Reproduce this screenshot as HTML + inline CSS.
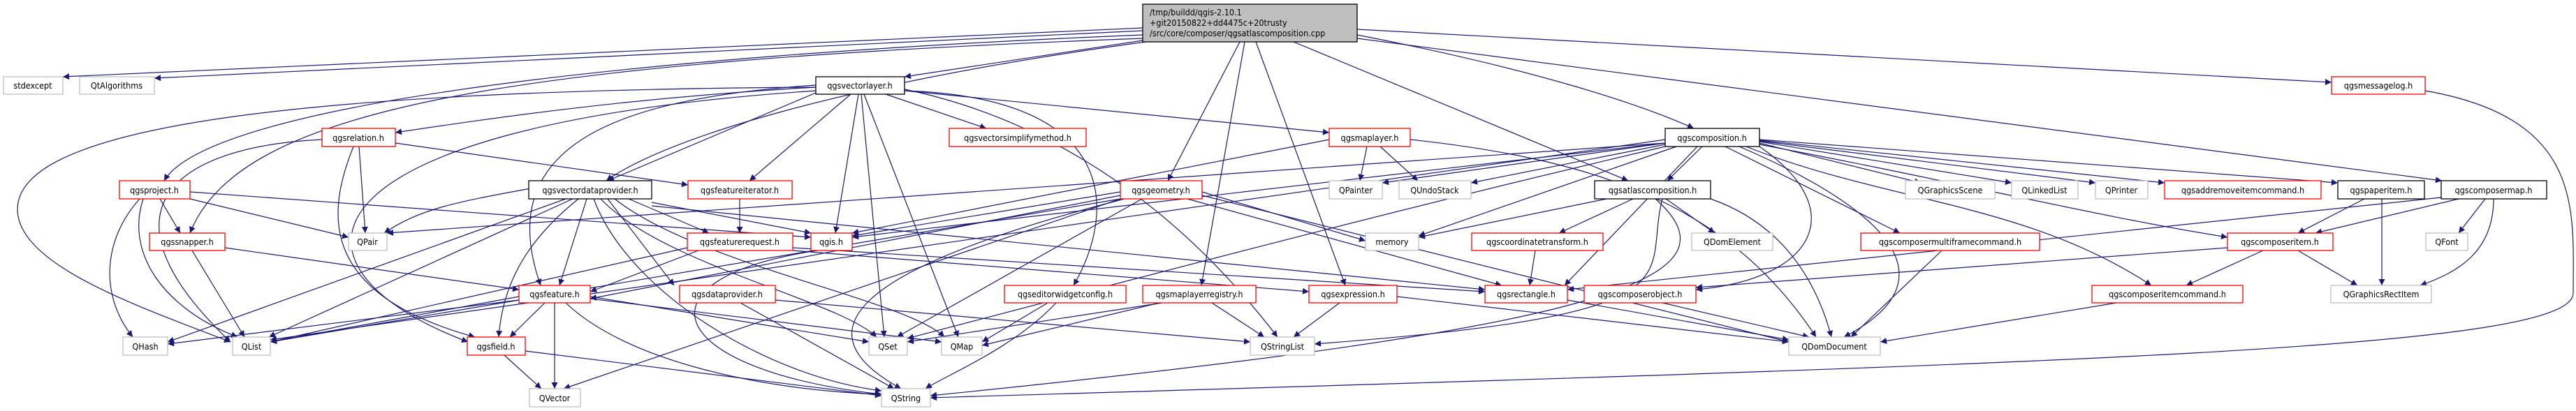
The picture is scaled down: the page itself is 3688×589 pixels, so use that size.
<!DOCTYPE html>
<html><head><meta charset="utf-8"><style>
html,body{margin:0;padding:0;background:#fff;width:3688px;height:589px;overflow:hidden}
svg{display:block}
text{font-family:"DejaVu Sans Condensed","DejaVu Sans","Liberation Sans",sans-serif;font-size:12.5px;fill:#000}
.e{fill:none;stroke:#191970;stroke-width:1.2}
.r{fill:#fff;stroke:#ff0000;stroke-width:1.3}
.b{fill:#fff;stroke:#000;stroke-width:1.3}
.g{fill:#fff;stroke:#bfbfbf;stroke-width:1.3}
</style></head><body>
<svg width="3688" height="589" viewBox="0 0 3688 589" xmlns="http://www.w3.org/2000/svg">
<defs><marker id="a" viewBox="0 0 10 10" refX="10" refY="5" markerWidth="10" markerHeight="9" markerUnits="userSpaceOnUse" orient="auto"><path d="M0,0 L10,5 L0,10 z" fill="#191970"/></marker></defs>
<g class="e" marker-end="url(#a)">
<path d="M1636,40 L90,110"/>
<path d="M1636,44 L221,112"/>
<path d="M1636,50 C900,80 300,150 235,259"/>
<path d="M1636,55 C700,90 340,160 272,334"/>
<path d="M1636,58 L1295,110"/>
<path d="M1640,60 C1200,120 950,200 868,259"/>
<path d="M1775,60 L1672,259"/>
<path d="M1782,60 L1720,409"/>
<path d="M1798,60 L1926,409"/>
<path d="M1852,60 L2331,259"/>
<path d="M1943,50 C2200,100 2350,150 2425,184"/>
<path d="M1943,55 L3496,259"/>
<path d="M1943,42 L3338,118"/>
<path d="M1168,125 C900,140 700,170 566,190"/>
<path d="M1268,135 L1412,184"/>
<path d="M1218,135 L1073,259"/>
<path d="M1229,135 L1196,334"/>
<path d="M1233,135 L1266,483"/>
<path d="M1237,135 L1372,483"/>
<path d="M1295,128 C1450,160 1650,250 1829,483"/>
<path d="M1295,130 L1903,190"/>
<path d="M1295,130 C1600,140 1600,300 1537,409"/>
<path d="M1168,122 C900,140 700,200 774,409"/>
<path d="M1168,130 C420,180 380,380 670,490"/>
<path d="M1168,125 C300,130 25,200 25,300 C25,380 200,440 330,490"/>
<path d="M1168,133 L870,259"/>
<path d="M514,210 L523,334"/>
<path d="M506,210 C470,300 450,420 680,483"/>
<path d="M461,200 C250,210 130,300 330,490"/>
<path d="M566,205 L985,265"/>
<path d="M272,285 L499,340"/>
<path d="M229,285 L258,334"/>
<path d="M200,285 C150,340 140,420 190,483"/>
<path d="M205,285 C180,360 230,440 340,483"/>
<path d="M272,275 L1161,340"/>
<path d="M322,355 L743,415"/>
<path d="M275,359 L350,483"/>
<path d="M760,270 C650,290 600,300 550,334"/>
<path d="M840,285 L801,409"/>
<path d="M828,285 C760,340 720,400 714,483"/>
<path d="M810,285 L240,490"/>
<path d="M820,285 L385,483"/>
<path d="M900,285 L1015,334"/>
<path d="M933,290 L1161,334"/>
<path d="M870,285 L965,409"/>
<path d="M860,285 C950,380 1200,430 1255,483"/>
<path d="M880,285 C1000,380 1300,430 1352,483"/>
<path d="M850,285 C900,420 1100,540 1262,560"/>
<path d="M933,295 L2126,415"/>
<path d="M1059,285 L1059,334"/>
<path d="M1000,359 L845,418"/>
<path d="M1135,355 L2126,418"/>
<path d="M984,355 L387,490"/>
<path d="M1135,359 L1874,418"/>
<path d="M1170,359 C900,400 950,530 1262,565"/>
<path d="M1604,275 L1220,338"/>
<path d="M1604,280 L845,428"/>
<path d="M1635,285 L1284,483"/>
<path d="M1604,285 L387,490"/>
<path d="M1610,285 C1200,390 1150,480 1290,557"/>
<path d="M1721,280 L2561,490"/>
<path d="M1700,285 L2150,409"/>
<path d="M1604,285 L807,557"/>
<path d="M1721,275 L1955,345"/>
<path d="M780,434 L730,483"/>
<path d="M794,434 L794,557"/>
<path d="M743,425 L387,490"/>
<path d="M743,430 L240,493"/>
<path d="M845,428 L1348,490"/>
<path d="M845,425 L1244,490"/>
<path d="M810,434 C900,520 1100,560 1262,565"/>
<path d="M722,509 L775,557"/>
<path d="M752,503 L1262,567"/>
<path d="M1060,434 L1280,557"/>
<path d="M1110,430 L1790,490"/>
<path d="M1500,434 L1406,490"/>
<path d="M1512,434 C1450,500 1350,540 1325,557"/>
<path d="M1660,434 L1406,495"/>
<path d="M1690,430 L1299,490"/>
<path d="M1735,434 L1810,483"/>
<path d="M1918,434 L1852,483"/>
<path d="M2000,425 L2561,490"/>
<path d="M1957,210 L1947,259"/>
<path d="M1976,210 L2030,259"/>
<path d="M1903,200 L1220,334"/>
<path d="M2019,200 C2300,230 2480,300 2600,483"/>
<path d="M2384,205 L1979,262"/>
<path d="M2384,207 L2106,262"/>
<path d="M2437,210 L2387,259"/>
<path d="M2400,210 L2031,338"/>
<path d="M2519,205 L2750,262"/>
<path d="M2519,203 L2880,262"/>
<path d="M2519,202 L3000,262"/>
<path d="M2519,201 L3099,262"/>
<path d="M2519,200 L3347,262"/>
<path d="M2519,207 C2800,260 3000,310 3189,340"/>
<path d="M2470,210 L2720,334"/>
<path d="M2500,210 C2700,290 2900,290 3080,409"/>
<path d="M2490,210 C2700,300 2800,400 2640,483"/>
<path d="M2519,210 C2650,300 2600,400 2428,415"/>
<path d="M2384,210 C2000,300 1700,380 1299,485"/>
<path d="M2384,200 L387,487"/>
<path d="M2384,205 L554,334"/>
<path d="M2384,205 L1220,340"/>
<path d="M2430,210 L2240,409"/>
<path d="M2300,285 L2031,340"/>
<path d="M2338,285 L2232,334"/>
<path d="M2385,285 L2455,334"/>
<path d="M2449,285 C2550,320 2600,400 2622,483"/>
<path d="M2380,285 C2350,400 2450,450 1882,493"/>
<path d="M2370,285 C2500,400 2300,470 1332,567"/>
<path d="M2198,359 L2190,409"/>
<path d="M2780,359 L2650,483"/>
<path d="M3240,359 L3130,409"/>
<path d="M3290,359 L3375,409"/>
<path d="M3189,355 L2428,412"/>
<path d="M3520,285 L3315,334"/>
<path d="M3558,285 L3520,334"/>
<path d="M3570,285 C3570,360 3520,390 3465,409"/>
<path d="M3495,283 L2244,415"/>
<path d="M3385,285 L3290,334"/>
<path d="M3410,285 L3410,409"/>
<path d="M3030,434 L2692,490"/>
<path d="M2380,434 L2590,483"/>
<path d="M2244,430 L2561,487"/>
<path d="M3472,130 C3700,170 3684,300 3684,420 C3684,500 3000,520 1332,570"/>
</g>
<g>
<rect x="1636" y="6" width="307" height="54" fill="#bfbfbf" stroke="#000" stroke-width="1.3"/>
<text x="1646" y="22">/tmp/buildd/qgis-2.10.1</text>
<text x="1646" y="37">+git20150822+dd4475c+20trusty</text>
<text x="1646" y="52">/src/core/composer/qgsatlascomposition.cpp</text>
</g>
<g text-anchor="middle">
<rect class="g" x="5" y="110" width="85" height="25"/><text x="47" y="127">stdexcept</text>
<rect class="g" x="114" y="110" width="107" height="25"/><text x="167" y="127">QtAlgorithms</text>
<rect class="b" x="1168" y="110" width="127" height="25"/><text x="1231" y="127">qgsvectorlayer.h</text>
<rect class="r" x="3338" y="110" width="134" height="25"/><text x="3405" y="127">qgsmessagelog.h</text>
<rect class="r" x="461" y="184" width="105" height="26"/><text x="513" y="202">qgsrelation.h</text>
<rect class="r" x="1359" y="184" width="196" height="26"/><text x="1457" y="202">qgsvectorsimplifymethod.h</text>
<rect class="r" x="1903" y="184" width="116" height="26"/><text x="1961" y="202">qgsmaplayer.h</text>
<rect class="b" x="2384" y="184" width="135" height="26"/><text x="2451" y="202">qgscomposition.h</text>
<rect class="r" x="171" y="259" width="101" height="26"/><text x="221" y="277">qgsproject.h</text>
<rect class="b" x="757" y="259" width="176" height="26"/><text x="845" y="277">qgsvectordataprovider.h</text>
<rect class="r" x="985" y="259" width="149" height="26"/><text x="1059" y="277">qgsfeatureiterator.h</text>
<rect class="r" x="1604" y="259" width="117" height="26"/><text x="1662" y="277">qgsgeometry.h</text>
<rect class="g" x="1903" y="259" width="76" height="26"/><text x="1941" y="277">QPainter</text>
<rect class="g" x="2003" y="259" width="103" height="26"/><text x="2054" y="277">QUndoStack</text>
<rect class="b" x="2283" y="259" width="166" height="26"/><text x="2366" y="277">qgsatlascomposition.h</text>
<rect class="g" x="2728" y="259" width="128" height="26"/><text x="2792" y="277">QGraphicsScene</text>
<rect class="g" x="2880" y="259" width="95" height="26"/><text x="2927" y="277">QLinkedList</text>
<rect class="g" x="3000" y="259" width="75" height="26"/><text x="3037" y="277">QPrinter</text>
<rect class="r" x="3099" y="259" width="224" height="26"/><text x="3211" y="277">qgsaddremoveitemcommand.h</text>
<rect class="b" x="3347" y="259" width="124" height="26"/><text x="3409" y="277">qgspaperitem.h</text>
<rect class="b" x="3495" y="259" width="151" height="26"/><text x="3570" y="277">qgscomposermap.h</text>
<rect class="r" x="214" y="334" width="108" height="25"/><text x="268" y="351">qgssnapper.h</text>
<rect class="g" x="499" y="334" width="55" height="25"/><text x="526" y="351">QPair</text>
<rect class="r" x="984" y="334" width="151" height="25"/><text x="1059" y="351">qgsfeaturerequest.h</text>
<rect class="r" x="1161" y="334" width="59" height="25"/><text x="1190" y="351">qgis.h</text>
<rect class="g" x="1955" y="334" width="76" height="25"/><text x="1993" y="351">memory</text>
<rect class="r" x="2107" y="334" width="188" height="25"/><text x="2201" y="351">qgscoordinatetransform.h</text>
<rect class="g" x="2422" y="334" width="116" height="25"/><text x="2480" y="351">QDomElement</text>
<rect class="r" x="2664" y="334" width="256" height="25"/><text x="2792" y="351">qgscomposermultiframecommand.h</text>
<rect class="r" x="3189" y="334" width="151" height="25"/><text x="3264" y="351">qgscomposeritem.h</text>
<rect class="g" x="3473" y="334" width="60" height="25"/><text x="3503" y="351">QFont</text>
<rect class="r" x="743" y="409" width="102" height="25"/><text x="794" y="426">qgsfeature.h</text>
<rect class="r" x="973" y="409" width="137" height="25"/><text x="1041" y="426">qgsdataprovider.h</text>
<rect class="r" x="1438" y="409" width="174" height="25"/><text x="1525" y="426">qgseditorwidgetconfig.h</text>
<rect class="r" x="1636" y="409" width="162" height="25"/><text x="1717" y="426">qgsmaplayerregistry.h</text>
<rect class="r" x="1874" y="409" width="126" height="25"/><text x="1937" y="426">qgsexpression.h</text>
<rect class="r" x="2126" y="409" width="118" height="25"/><text x="2185" y="426">qgsrectangle.h</text>
<rect class="r" x="2268" y="409" width="160" height="25"/><text x="2348" y="426">qgscomposerobject.h</text>
<rect class="r" x="2995" y="409" width="216" height="25"/><text x="3103" y="426">qgscomposeritemcommand.h</text>
<rect class="g" x="3337" y="409" width="144" height="25"/><text x="3409" y="426">QGraphicsRectItem</text>
<rect class="g" x="176" y="483" width="64" height="26"/><text x="208" y="501">QHash</text>
<rect class="g" x="333" y="483" width="54" height="26"/><text x="360" y="501">QList</text>
<rect class="r" x="669" y="483" width="83" height="26"/><text x="710" y="501">qgsfield.h</text>
<rect class="g" x="1244" y="483" width="55" height="26"/><text x="1271" y="501">QSet</text>
<rect class="g" x="1348" y="483" width="58" height="26"/><text x="1377" y="501">QMap</text>
<rect class="g" x="1790" y="483" width="92" height="26"/><text x="1836" y="501">QStringList</text>
<rect class="g" x="2561" y="483" width="131" height="26"/><text x="2626" y="501">QDomDocument</text>
<rect class="g" x="758" y="557" width="73" height="26"/><text x="794" y="575">QVector</text>
<rect class="g" x="1262" y="557" width="70" height="26"/><text x="1297" y="575">QString</text>
</g>
</svg>
</body></html>
